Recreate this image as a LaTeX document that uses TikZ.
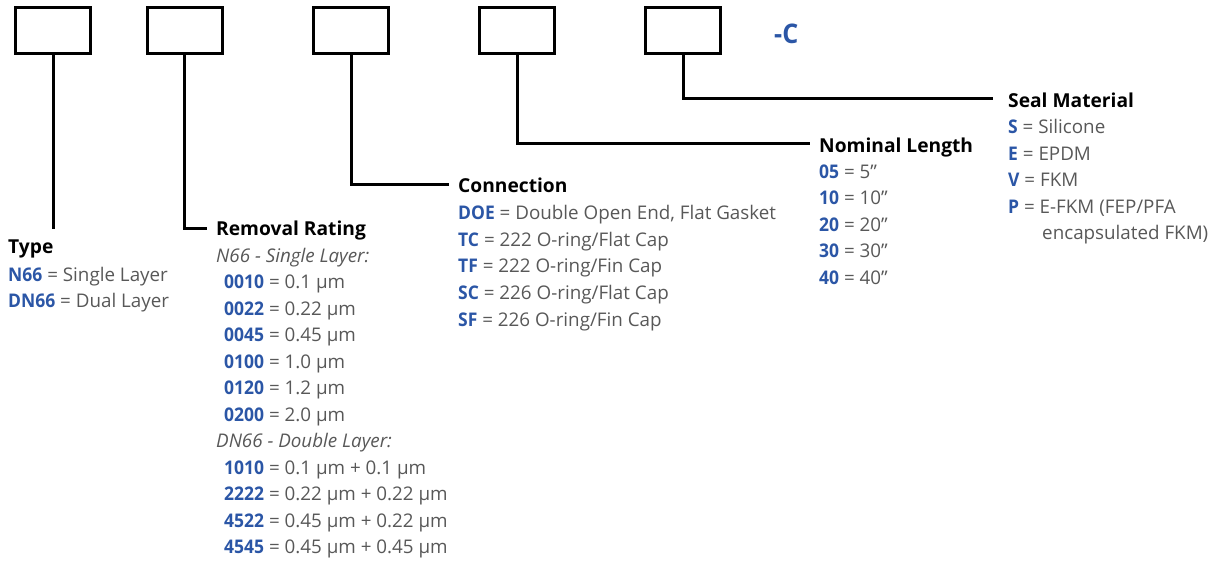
\documentclass[tikz,border=0pt]{standalone}
\usepackage{fontspec}
\setmainfont{Open Sans}
\newfontfamily\codefont[FakeStretch=0.93]{Open Sans}
\usetikzlibrary{positioning}

\definecolor{codeblue}{RGB}{43,86,166}
\definecolor{textgray}{RGB}{88,88,88}

\newcommand{\code}[1]{{\codefont\bfseries\color{codeblue}#1}}
\newcommand{\inch}{\char"22\relax}

\tikzset{
  pnbox/.style={draw, line width=3pt, minimum width=75pt, minimum height=46pt, inner sep=0pt},
  lead/.style={line width=3pt},
  heading/.style={anchor=base west, inner sep=0pt, font=\fontsize{19.2}{21}\selectfont\bfseries},
  item/.style={anchor=base west, inner sep=0pt, text=textgray, font=\fontsize{18.8}{21}\selectfont},
}

\begin{document}
\begin{tikzpicture}[x=1pt, y=-1pt]
    \useasboundingbox (0,0) rectangle (1223,560);

    % Part number boxes
    \node[pnbox] (b1) at (53,30.5) {};
    \node[pnbox] (b2) at (184.5,30.5) {};
    \node[pnbox] (b3) at (351,30.5) {};
    \node[pnbox] (b4) at (517,30.5) {};
    \node[pnbox] (b5) at (683,30.5) {};
    \node[anchor=base west, inner sep=0pt, font=\fontsize{27}{29}\selectfont] (suffix) at (774,43) {\code{-C}};

    % Leader lines
    \coordinate (e1) at (53,229);
    \coordinate (e2) at (207,228);
    \coordinate (e3) at (449,184);
    \coordinate (e4) at (810,143);
    \coordinate (e5) at (993,98);
    \draw[lead] (b1.south) -- (e1);
    \draw[lead] (b2.south) |- (e2);
    \draw[lead] (b3.south) |- (e3);
    \draw[lead] (b4.south) |- (e4);
    \draw[lead] (b5.south) |- (e5);

    % Type
    \node[heading] (type) at (8,253) {Type};
    \node[item] (type1) at (8,281) {\code{N66} = Single Layer};
    \node[item] (type2) at (8,307.5) {\code{DN66} = Dual Layer};

    % Removal rating
    \node[heading] (rating) at (216,235) {Removal Rating};
    \node[item] (single) at (216,262) {\itshape N66 - Single Layer:};
    \foreach \c/\t [count=\i] in {0010/0.1, 0022/0.22, 0045/0.45, 0100/1.0, 0120/1.2, 0200/2.0}
        \node[item] (rs\i) at (224,262+26.5*\i) {\code{\c} = \t~µm};
    \node[item] (double) at (216,447.5) {\itshape DN66 - Double Layer:};
    \foreach \c/\t [count=\i] in {1010/{0.1 µm + 0.1}, 2222/{0.22 µm + 0.22}, 4522/{0.45 µm + 0.22}, 4545/{0.45 µm + 0.45}}
        \node[item] (rd\i) at (224,447.5+26.5*\i) {\code{\c} = \t~µm};

    % Connection
    \node[heading] (conn) at (458,192) {Connection};
    \foreach \c/\t [count=\i] in {DOE/{Double Open End, Flat Gasket}, TC/{222 O-ring/Flat Cap}, TF/{222 O-ring/Fin Cap}, SC/{226 O-ring/Flat Cap}, SF/{226 O-ring/Fin Cap}}
        \node[item] (conn\i) at (458,193+26.6*\i) {\code{\c} = \t};

    % Nominal length
    \node[heading] (length) at (819,152) {Nominal Length};
    \foreach \c/\t [count=\i] in {05/5, 10/10, 20/20, 30/30, 40/40}
        \node[item] (len\i) at (819,152+26.4*\i) {\code{\c} = \t\inch};

    % Seal material
    \node[heading] (seal) at (1008,107) {Seal Material};
    \foreach \c/\t [count=\i] in {S/Silicone, E/EPDM, V/FKM, P/{E-FKM (FEP/PFA}}
        \node[item] (seal\i) at (1008,107+26.5*\i) {\code{\c} = \t};
    \node[item] (seal5) at (1042,239) {encapsulated FKM)};
\end{tikzpicture}
\end{document}
